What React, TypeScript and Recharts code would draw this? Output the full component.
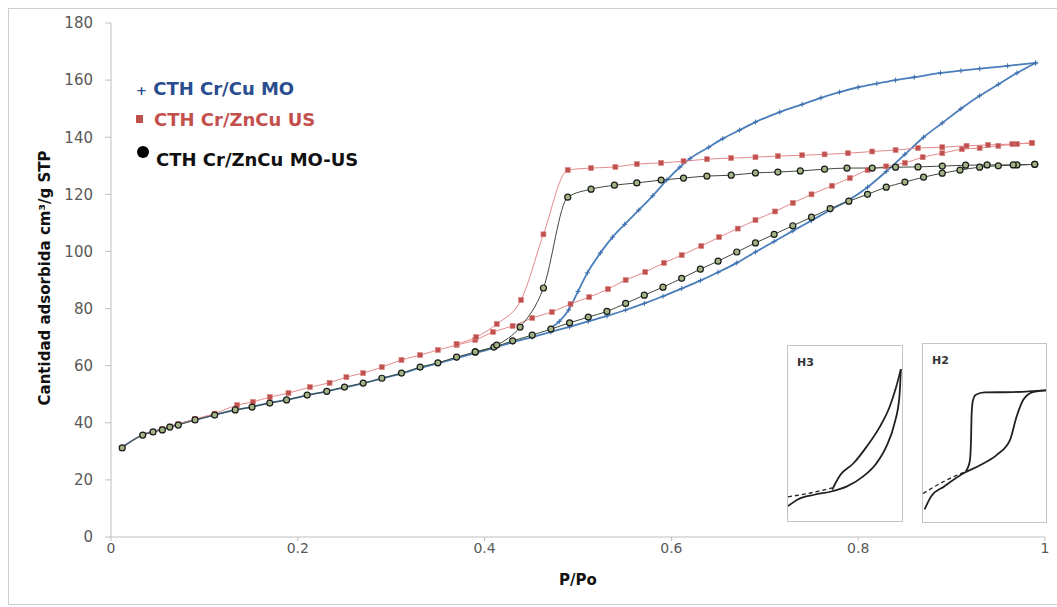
import React from 'react';
import { LineChart, Line, XAxis, YAxis } from 'recharts';

type Pt = [number, number];

const xTicks = [0, 0.2, 0.4, 0.6, 0.8, 1];
const yTicks = [0, 20, 40, 60, 80, 100, 120, 140, 160, 180];
const seriesNames = ['CTH Cr/Cu MO', 'CTH Cr/ZnCu US', 'CTH Cr/ZnCu MO-US'];
const xTitle = 'P/Po';
const yTitle = 'Cantidad adsorbida cm³/g STP';

// CTH Cr/Cu MO  (adsorption / desorption branch)
const cuMoAds: Pt[] = [
  [0.012, 31.5], [0.034, 35.8], [0.055, 37.8], [0.072, 39.5], [0.09, 41], [0.111, 42.8],
  [0.133, 44.5], [0.151, 45.6], [0.17, 47], [0.188, 48], [0.21, 49.6], [0.231, 51],
  [0.25, 52.4], [0.27, 53.8], [0.29, 55.5], [0.311, 57.2], [0.331, 59.2], [0.35, 60.8],
  [0.37, 62.6], [0.39, 64.4], [0.41, 66.2], [0.43, 68.2], [0.451, 70], [0.471, 71.8],
  [0.491, 73.6], [0.511, 75.5], [0.531, 77.4], [0.551, 79.5], [0.571, 81.8], [0.591, 84.3],
  [0.611, 87], [0.631, 89.8], [0.65, 92.7], [0.67, 96], [0.69, 99.8], [0.71, 103.5],
  [0.73, 107.2], [0.75, 110.8], [0.77, 114.5], [0.79, 118], [0.81, 122.5], [0.83, 128],
  [0.85, 134], [0.87, 140], [0.89, 145], [0.91, 150], [0.93, 154.5], [0.95, 158.5],
  [0.97, 162.5], [0.99, 166],
];
const cuMoDes: Pt[] = [
  [0.47, 73], [0.48, 75.5], [0.49, 79.5], [0.5, 86], [0.51, 92.5], [0.524, 99.5],
  [0.537, 105], [0.55, 109.5], [0.565, 114.5], [0.58, 119.5], [0.595, 125], [0.609, 129.5],
  [0.62, 132.5], [0.64, 136.5], [0.655, 139.5], [0.673, 142.5], [0.69, 145.3], [0.716, 148.8],
  [0.74, 151.5], [0.76, 153.8], [0.78, 155.8], [0.8, 157.5], [0.82, 158.8], [0.84, 160],
  [0.86, 161], [0.888, 162.5], [0.91, 163.3], [0.93, 164], [0.96, 165], [0.99, 166],
];

// CTH Cr/ZnCu US
const znUsAds: Pt[] = [
  [0.012, 31.2], [0.034, 35.7], [0.045, 36.8], [0.055, 37.8], [0.063, 38.7], [0.072, 39.5],
  [0.09, 41.3], [0.111, 43.2], [0.135, 46.2], [0.152, 47.3], [0.17, 49], [0.19, 50.4],
  [0.213, 52.5], [0.234, 54], [0.252, 56], [0.27, 57.4], [0.29, 59.5], [0.311, 62],
  [0.331, 63.7], [0.35, 65.5], [0.37, 67.2], [0.39, 69], [0.409, 71.8], [0.43, 73.9],
  [0.451, 76.7], [0.472, 78.8], [0.492, 81.6], [0.512, 84], [0.532, 86.8], [0.551, 90],
  [0.572, 92.8], [0.592, 96], [0.611, 98.7], [0.632, 101.9], [0.651, 105], [0.671, 108],
  [0.69, 111], [0.711, 114], [0.73, 117], [0.75, 120], [0.772, 123], [0.791, 125.7],
  [0.81, 128.5], [0.83, 129.8], [0.85, 131], [0.869, 133], [0.89, 134.4], [0.911, 135.8],
  [0.93, 136.2], [0.95, 137], [0.97, 137.6], [0.986, 138],
];
const znUsDes: Pt[] = [
  [0.37, 67.6], [0.391, 70], [0.413, 74.6], [0.439, 83], [0.463, 106], [0.489, 128.5],
  [0.514, 129.2], [0.54, 129.6], [0.563, 130.6], [0.589, 131], [0.613, 131.6], [0.638, 132.3],
  [0.664, 132.7], [0.69, 133], [0.714, 133.4], [0.74, 133.7], [0.764, 134], [0.789, 134.4],
  [0.815, 135], [0.84, 135.5], [0.864, 136.2], [0.89, 136.5], [0.916, 137], [0.939, 137.3],
  [0.965, 137.6], [0.986, 138],
];

// CTH Cr/ZnCu MO-US
const znMoUsAds: Pt[] = [
  [0.012, 31.2], [0.034, 35.7], [0.045, 36.8], [0.055, 37.5], [0.063, 38.5], [0.072, 39.2],
  [0.09, 41], [0.111, 42.7], [0.133, 44.5], [0.151, 45.5], [0.17, 46.9], [0.188, 48],
  [0.21, 49.7], [0.231, 51], [0.25, 52.5], [0.27, 53.9], [0.29, 55.6], [0.311, 57.4],
  [0.331, 59.5], [0.35, 61], [0.37, 63], [0.39, 64.8], [0.41, 66.5], [0.43, 68.7],
  [0.451, 70.7], [0.471, 72.8], [0.491, 75], [0.511, 77], [0.531, 79], [0.551, 81.8],
  [0.571, 84.7], [0.591, 87.5], [0.611, 90.6], [0.631, 93.8], [0.65, 96.6], [0.67, 99.8],
  [0.69, 103], [0.71, 106], [0.73, 109], [0.75, 112], [0.77, 115], [0.79, 117.6],
  [0.81, 120], [0.83, 122.5], [0.85, 124.3], [0.87, 126], [0.89, 127.4], [0.909, 128.5],
  [0.93, 129.5], [0.95, 130], [0.97, 130.3], [0.989, 130.5],
];
const znMoUsDes: Pt[] = [
  [0.39, 64.8], [0.413, 67.2], [0.438, 73.5], [0.463, 87.2], [0.489, 119], [0.514, 121.8],
  [0.539, 123.2], [0.563, 124], [0.589, 125], [0.613, 125.7], [0.638, 126.4], [0.664, 126.7],
  [0.69, 127.5], [0.714, 127.8], [0.738, 128.2], [0.764, 128.8], [0.788, 129.2], [0.815, 129.2],
  [0.84, 129.5], [0.864, 129.6], [0.89, 129.9], [0.915, 130.2], [0.938, 130.3], [0.966, 130.3],
  [0.989, 130.5],
];

// IUPAC loop sketches (relative units 0..1)
const h3Ads: Pt[] = [
  [0, 0.085], [0.086, 0.123], [0.23, 0.15], [0.388, 0.17], [0.517, 0.198], [0.66, 0.255],
  [0.776, 0.33], [0.862, 0.425], [0.934, 0.557], [0.977, 0.708], [0.99, 0.868],
];
const h3Des: Pt[] = [
  [0.388, 0.179], [0.417, 0.217], [0.46, 0.264], [0.575, 0.33], [0.69, 0.425], [0.805, 0.538],
  [0.89, 0.65], [0.948, 0.764], [0.99, 0.868],
];
const h3Low: Pt[] = [[0, 0.138], [0.172, 0.157], [0.388, 0.189]];

const h2Ads: Pt[] = [
  [0.013, 0.071], [0.067, 0.145], [0.173, 0.2], [0.333, 0.275], [0.467, 0.32], [0.6, 0.377],
  [0.707, 0.46], [0.76, 0.59], [0.813, 0.684], [0.893, 0.73], [1, 0.74],
];
const h2Des: Pt[] = [
  [0.347, 0.284], [0.38, 0.34], [0.39, 0.45], [0.395, 0.6], [0.405, 0.68], [0.43, 0.715],
  [0.5, 0.728], [0.733, 0.73], [1, 0.74],
];
const h2Low: Pt[] = [[0, 0.16], [0.173, 0.229], [0.347, 0.284]];

const rows = (pts: Pt[]) => pts.map(([p, v]) => ({ p, v })).sort((a, b) => a.p - b.p);

const BLUE = '#4a7ebb';
const RED = '#c0504d';

function PlusDot(props: any) {
  const { cx, cy, index } = props;
  if (cx == null || cy == null) return <g key={index} />;
  return (
    <path
      key={index}
      d={`M${cx - 2.5},${cy}h5M${cx},${cy - 2.5}v5`}
      stroke="#3f6fae"
      strokeWidth={1}
    />
  );
}

function SquareDot(props: any) {
  const { cx, cy, index } = props;
  if (cx == null || cy == null) return <g key={index} />;
  return <rect key={index} x={cx - 2.5} y={cy - 2.5} width={5} height={5} fill={RED} stroke="#d98583" strokeWidth={0.6} />;
}

function CircleDot(props: any) {
  const { cx, cy, index } = props;
  if (cx == null || cy == null) return <g key={index} />;
  return <circle key={index} cx={cx} cy={cy} r={3} fill="#a3b585" stroke="#1a1a1a" strokeWidth={1.2} />;
}

function LoopInset({ left, top, width, height, label, ads, des, low }: {
  left: number; top: number; width: number; height: number; label: string;
  ads: Pt[]; des: Pt[]; low: Pt[];
}) {
  return (
    <div
      style={{
        position: 'absolute', left, top, width, height, boxSizing: 'border-box',
        border: '1px solid #c4c4c4', background: '#fff',
      }}
    >
      <div
        style={{
          position: 'absolute', left: 9, top: 10, fontFamily: 'DejaVu Sans', fontWeight: 'bold',
          fontSize: 11, color: '#333',
        }}
      >
        {label}
      </div>
      <LineChart width={width - 2} height={height - 2} margin={{ top: 0, right: 0, bottom: 0, left: 0 }}>
        <XAxis type="number" dataKey="p" domain={[0, 1]} hide />
        <YAxis type="number" domain={[0, 1]} hide />
        <Line data={rows(low)} dataKey="v" type="monotone" stroke="#222" strokeWidth={1.3} strokeDasharray="4 3" dot={false} activeDot={false} isAnimationActive={false} />
        <Line data={rows(ads)} dataKey="v" type="monotone" stroke="#222" strokeWidth={1.8} dot={false} activeDot={false} isAnimationActive={false} />
        <Line data={rows(des)} dataKey="v" type="monotone" stroke="#222" strokeWidth={1.8} dot={false} activeDot={false} isAnimationActive={false} />
      </LineChart>
    </div>
  );
}

const tickStyle = { fontFamily: 'DejaVu Sans', fill: '#595959' };
const legendText = { fontFamily: 'DejaVu Sans', fontWeight: 'bold' as const, fontSize: 18, lineHeight: '22px', whiteSpace: 'nowrap' as const };

export default function App() {
  return (
    <div style={{ position: 'absolute', left: 0, top: 0, width: 1057, height: 607, background: '#fff', overflow: 'hidden' }}>
      <style>{'body{margin:0;overflow:hidden;}'}</style>
      <div
        style={{
          position: 'absolute', left: 8, top: 8, width: 1070, height: 597, boxSizing: 'border-box',
          border: '1px solid #cfcfcf',
        }}
      />
      <div style={{ position: 'absolute', left: 0, top: 0 }}>
        <LineChart width={1057} height={607} margin={{ top: 23, right: 12, bottom: 40, left: 51 }}>
          <XAxis
            type="number"
            dataKey="p"
            domain={[0, 1]}
            ticks={xTicks}
            height={30}
            tickSize={4}
            tickMargin={2}
            stroke="#bfbfbf"
            tick={{ ...tickStyle, fontSize: 14 }}
            tickFormatter={(v: number) => String(v)}
          />
          <YAxis
            type="number"
            domain={[0, 180]}
            ticks={yTicks}
            width={60}
            tickSize={6}
            tickMargin={12}
            stroke="#bfbfbf"
            tick={{ ...tickStyle, fontSize: 15 }}
          />
          <Line data={rows(cuMoAds)} dataKey="v" name={seriesNames[0]} type="monotone" stroke={BLUE} strokeWidth={1.8} dot={PlusDot} activeDot={false} isAnimationActive={false} />
          <Line data={rows(cuMoDes)} dataKey="v" name={seriesNames[0]} type="monotone" stroke={BLUE} strokeWidth={1.8} dot={PlusDot} activeDot={false} isAnimationActive={false} />
          <Line data={rows(znUsAds)} dataKey="v" name={seriesNames[1]} type="monotone" stroke="#e58a8a" strokeWidth={1} dot={SquareDot} activeDot={false} isAnimationActive={false} />
          <Line data={rows(znUsDes)} dataKey="v" name={seriesNames[1]} type="monotone" stroke="#e58a8a" strokeWidth={1} dot={SquareDot} activeDot={false} isAnimationActive={false} />
          <Line data={rows(znMoUsAds)} dataKey="v" name={seriesNames[2]} type="monotone" stroke="#3d4a3a" strokeWidth={1} dot={CircleDot} activeDot={false} isAnimationActive={false} />
          <Line data={rows(znMoUsDes)} dataKey="v" name={seriesNames[2]} type="monotone" stroke="#3d4a3a" strokeWidth={1} dot={CircleDot} activeDot={false} isAnimationActive={false} />
        </LineChart>
      </div>

      {/* legend */}
      <div style={{ position: 'absolute', left: 136, top: 78, ...legendText, color: '#2a4d8f' }}>
        <span style={{ fontSize: 13 }}>+</span> {seriesNames[0]}
      </div>
      <div style={{ position: 'absolute', left: 136, top: 115, width: 7, height: 8, background: RED }} />
      <div style={{ position: 'absolute', left: 154, top: 109, ...legendText, color: '#c4504e' }}>
        {seriesNames[1]}
      </div>
      <div style={{ position: 'absolute', left: 137, top: 146, width: 12, height: 12, borderRadius: 6, background: '#000' }} />
      <div style={{ position: 'absolute', left: 156, top: 149, ...legendText, color: '#111' }}>
        {seriesNames[2]}
      </div>

      {/* axis titles */}
      <div
        style={{
          position: 'absolute', left: 45, top: 278, transform: 'translate(-50%, -50%) rotate(-90deg)',
          fontFamily: 'DejaVu Sans', fontWeight: 'bold', fontSize: 15, color: '#111', whiteSpace: 'nowrap',
        }}
      >
        {yTitle}
      </div>
      <div
        style={{
          position: 'absolute', left: 578, top: 580, transform: 'translate(-50%, -50%)',
          fontFamily: 'DejaVu Sans', fontWeight: 'bold', fontSize: 15, color: '#111', whiteSpace: 'nowrap',
        }}
      >
        {xTitle}
      </div>

      <LoopInset left={787} top={345} width={116} height={177} label="H3" ads={h3Ads} des={h3Des} low={h3Low} />
      <LoopInset left={922} top={343} width={125} height={180} label="H2" ads={h2Ads} des={h2Des} low={h2Low} />
    </div>
  );
}
